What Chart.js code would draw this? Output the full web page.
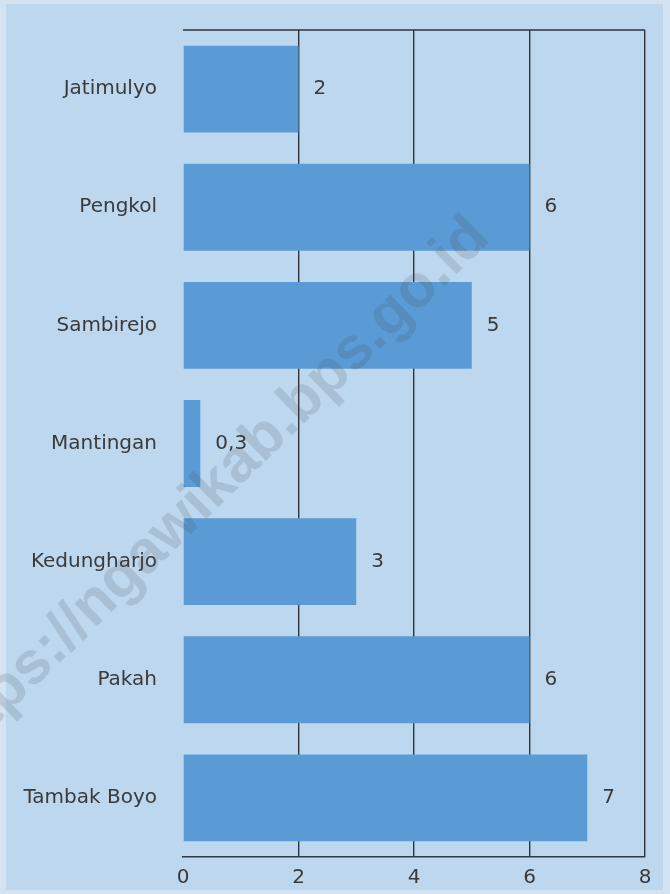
<!DOCTYPE html>
<html>
<head>
<meta charset="utf-8">
<script src="https://cdn.jsdelivr.net/npm/chart.js@4"></script>
<style>
  html, body { margin: 0; padding: 0; background: #d3e3f1; }
  #wrap { width: 670px; height: 894px; }
</style>
</head>
<body>
<div id="wrap"><canvas id="desaChart" width="670" height="894"></canvas></div>
<script>
/* ── data ── */
const villages = ['Jatimulyo', 'Pengkol', 'Sambirejo', 'Mantingan', 'Kedungharjo', 'Pakah', 'Tambak Boyo'];
const values   = [2, 6, 5, 0.3, 3, 6, 7];
const xTicks   = [0, 2, 4, 6, 8];
const watermark = 'https://ngawikab.bps.go.id';

const BG   = '#bdd7ee';
const BAR  = '#5b9bd5';
const INK  = '#3a3a3a';
const LINE = '#2f3640';
const FONT = '"DejaVu Sans", sans-serif';

// background with slightly lighter frame
const bgPlugin = {
  id: 'bg',
  beforeDraw(chart) {
    const c = chart.ctx;
    c.save();
    c.fillStyle = '#d3e3f1';
    c.fillRect(0, 0, chart.width, chart.height);
    c.fillStyle = BG;
    c.fillRect(6, 4, chart.width - 13, chart.height - 8);
    c.restore();
  }
};

// top border line, value labels, watermark
const labelPlugin = {
  id: 'vals',
  afterDatasetsDraw(chart) {
    const c = chart.ctx, a = chart.chartArea;
    c.save();
    c.strokeStyle = LINE; c.lineWidth = 1.4;
    c.beginPath(); c.moveTo(a.left, a.top); c.lineTo(a.right, a.top); c.stroke();
    c.font = '20px ' + FONT;
    c.fillStyle = INK;
    c.textAlign = 'left'; c.textBaseline = 'middle';
    chart.getDatasetMeta(0).data.forEach(function (bar, i) {
      c.fillText(String(values[i]).replace('.', ','), bar.x + 15, bar.y);
    });
    c.restore();
  },
  afterDraw(chart) {
    const c = chart.ctx;
    c.save();
    c.translate(480, 228);
    c.rotate(-Math.atan2(455, 465));
    c.font = 'bold 60px "Liberation Sans", sans-serif';
    c.fillStyle = 'rgba(60,70,80,0.16)';
    c.textAlign = 'right'; c.textBaseline = 'middle';
    c.fillText(watermark, 0, 0);
    c.restore();
  }
};

new Chart(document.getElementById('desaChart'), {
  type: 'bar',
  data: {
    labels: villages,
    datasets: [{
      data: values,
      backgroundColor: BAR,
      borderWidth: 0,
      barPercentage: 0.735,
      categoryPercentage: 1
    }]
  },
  options: {
    indexAxis: 'y',
    responsive: false,
    animation: false,
    events: [],
    layout: { padding: { top: 25, right: 25, bottom: 4, left: 0 } },
    plugins: { legend: { display: false }, tooltip: { enabled: false } },
    scales: {
      x: {
        min: 0, max: 8,
        afterBuildTicks(scale) { scale.ticks = xTicks.map(v => ({ value: v })); },
        afterFit(scale) { scale.height = 33; },
        grid: {
          color: ctx => (ctx.tick && ctx.tick.value === 0) ? 'rgba(0,0,0,0)' : LINE,
          lineWidth: 1.4,
          drawTicks: false
        },
        border: { display: true, color: LINE, width: 1.4 },
        ticks: { color: INK, padding: 9, font: { family: FONT, size: 20 } }
      },
      y: {
        grid: { display: false },
        border: { display: false },
        afterFit(scale) { scale.width = 183; },
        ticks: { color: INK, padding: 18, font: { family: FONT, size: 20 } }
      }
    }
  },
  plugins: [bgPlugin, labelPlugin]
});
</script>
</body>
</html>
